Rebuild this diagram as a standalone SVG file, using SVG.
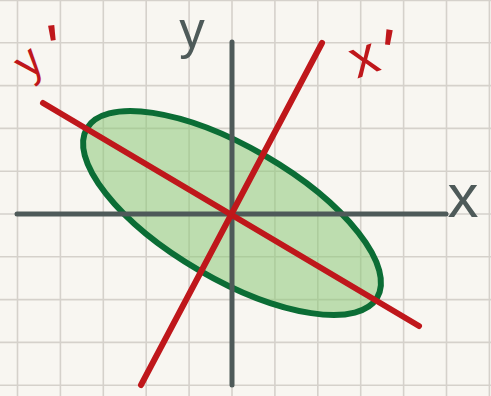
<svg xmlns="http://www.w3.org/2000/svg" width="491" height="396" viewBox="0 0 491 396">
  <style>
    .grid line { stroke: #d5d1cb; stroke-width: 1.6; }
    .axis { stroke: #4e5a59; stroke-width: 5; stroke-linecap: round; fill: none; }
    .red { stroke: #bf171b; stroke-width: 6; stroke-linecap: round; fill: none; }
    .lbl { font-family: "Liberation Sans", Arial, sans-serif; }
    .lg { fill: #4e5a59; }
    .lr { fill: #bf171b; }
  </style>
  <rect x="0" y="0" width="491" height="396" fill="#f8f6f1"/>
  <g class="grid" id="grid">
    <line x1="17.5" y1="0" x2="17.5" y2="396"/>
    <line x1="60.4" y1="0" x2="60.4" y2="396"/>
    <line x1="103.3" y1="0" x2="103.3" y2="396"/>
    <line x1="146.2" y1="0" x2="146.2" y2="396"/>
    <line x1="189.1" y1="0" x2="189.1" y2="396"/>
    <line x1="232" y1="0" x2="232" y2="396"/>
    <line x1="274.9" y1="0" x2="274.9" y2="396"/>
    <line x1="317.8" y1="0" x2="317.8" y2="396"/>
    <line x1="360.7" y1="0" x2="360.7" y2="396"/>
    <line x1="403.6" y1="0" x2="403.6" y2="396"/>
    <line x1="446.5" y1="0" x2="446.5" y2="396"/>
    <line x1="489.4" y1="0" x2="489.4" y2="396"/>
    <line x1="0" y1="0.5" x2="491" y2="0.5"/>
    <line x1="0" y1="42.8" x2="491" y2="42.8"/>
    <line x1="0" y1="85.6" x2="491" y2="85.6"/>
    <line x1="0" y1="128.4" x2="491" y2="128.4"/>
    <line x1="0" y1="171.2" x2="491" y2="171.2"/>
    <line x1="0" y1="214" x2="491" y2="214"/>
    <line x1="0" y1="256.8" x2="491" y2="256.8"/>
    <line x1="0" y1="299.6" x2="491" y2="299.6"/>
    <line x1="0" y1="342.4" x2="491" y2="342.4"/>
    <line x1="0" y1="385.2" x2="491" y2="385.2"/>
  </g>
  <g id="ellipse-fill">
    <ellipse cx="232" cy="213" rx="168" ry="66" transform="rotate(30.2 232 213)" fill="#8cc878" fill-opacity="0.55"/>
  </g>
  <g id="ellipse">
    <ellipse cx="232" cy="213" rx="168" ry="66" transform="rotate(30.2 232 213)" fill="none" stroke="#0b6d35" stroke-width="6"/>
  </g>
  <g id="connectors">
    <line class="axis" x1="17" y1="214" x2="446" y2="214"/>
    <line class="axis" x1="232" y1="42" x2="232" y2="385"/>
    <line class="red" x1="43" y1="103" x2="419" y2="326"/>
    <line class="red" x1="322" y1="43" x2="141" y2="385"/>
  </g>
  <g id="label-y">
    <text class="lbl lg" x="192" y="48" font-size="51" text-anchor="middle">y</text>
  </g>
  <g id="label-x">
    <text class="lbl lg" x="463" y="217" font-size="62" text-anchor="middle">x</text>
  </g>
  <g id="label-yprime">
    <text class="lbl lr" transform="translate(33 68) rotate(-40)" x="-11.25" y="7" font-size="45">y<tspan x="10.1" y="16.3" font-size="70" rotate="32">'</tspan></text>
  </g>
  <g id="label-xprime">
    <text class="lbl lr" transform="translate(365 61) rotate(-20)" x="-13.5" y="14" font-size="54">x<tspan x="5.2" y="18.5" font-size="70" rotate="28">'</tspan></text>
  </g>
</svg>
